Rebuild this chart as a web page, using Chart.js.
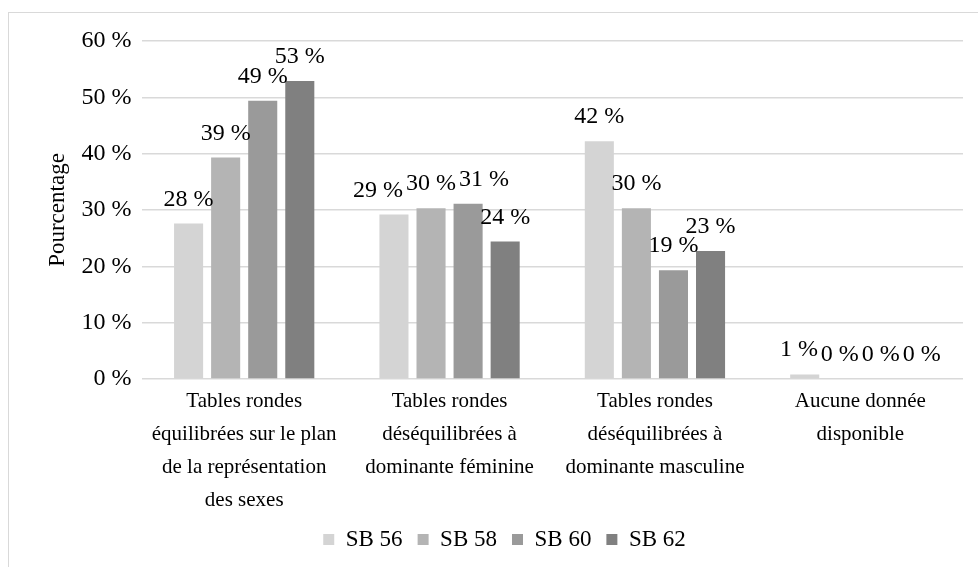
<!DOCTYPE html>
<html>
<head>
<meta charset="utf-8">
<script src="https://cdn.jsdelivr.net/npm/chart.js@4.4.0/dist/chart.umd.min.js"></script>
<style>
  body { margin: 0; background: #fff; }
  #frame {
    position: absolute; left: 8px; top: 12px; width: 980px; height: 570px;
    border-left: 1.5px solid #d9d9d9; border-top: 1.5px solid #d9d9d9;
  }
  #wrap { position: absolute; left: 0; top: 0; width: 978px; height: 567px; }
</style>
</head>
<body>
<div id="frame"></div>
<div id="wrap"><canvas id="barChart"></canvas></div>
<script>
const categories = [
  ["Tables rondes", "équilibrées sur le plan", "de la représentation", "des sexes"],
  ["Tables rondes", "déséquilibrées à", "dominante féminine"],
  ["Tables rondes", "déséquilibrées à", "dominante masculine"],
  ["Aucune donnée", "disponible"],
];
const seriesNames = ["SB 56", "SB 58", "SB 60", "SB 62"];
const sb56 = [27.6, 29.2, 42.2, 0.8];
const sb58 = [39.3, 30.3, 30.3, 0];
const sb60 = [49.4, 31.1, 19.3, 0];
const sb62 = [52.9, 24.4, 22.7, 0];
const yTicks = [0, 10, 20, 30, 40, 50, 60];

const colors = ["#d4d4d4", "#b4b4b4", "#9a9a9a", "#808080"];
const serif = "'Liberation Serif', 'Times New Roman', serif";

// Value labels above each bar, pushed apart sideways when they collide
const valueLabels = {
  id: "valueLabels",
  afterDatasetsDraw(chart) {
    const ctx = chart.ctx;
    ctx.save();
    ctx.font = "24px " + serif;
    ctx.fillStyle = "#000";
    ctx.textAlign = "center";
    ctx.textBaseline = "alphabetic";
    const nCat = chart.data.labels.length;
    for (let j = 0; j < nCat; j++) {
      const items = chart.data.datasets.map((ds, i) => {
        const bar = chart.getDatasetMeta(i).data[j];
        const text = Math.round(ds.data[j]) + " %";
        return { text, x: bar.x, y: bar.y - 18, w: ctx.measureText(text).width };
      });
      for (let it = 0; it < 30; it++) {
        for (let k = 0; k < items.length - 1; k++) {
          const a = items[k], b = items[k + 1];
          if (Math.abs(a.y - b.y) >= 16) continue;
          const overlap = (a.x + a.w / 2 + 3) - (b.x - b.w / 2);
          if (overlap > 0.1) {
            a.x -= overlap / 2;
            b.x += overlap / 2;
          }
        }
      }
      items.forEach((l) => ctx.fillText(l.text, l.x, l.y));
    }
    ctx.restore();
  },
};

// Move the legend to the same centre as in the original figure
const legendShift = {
  id: "legendShift",
  afterLayout(chart) {
    chart.legend.left += 23;
    chart.legend.right += 23;
  },
};

const ctx = document.getElementById("barChart").getContext("2d");
new Chart(ctx, {
  type: "bar",
  data: {
    labels: categories,
    datasets: [sb56, sb58, sb60, sb62].map((d, i) => ({
      label: seriesNames[i],
      data: d,
      backgroundColor: colors[i],
      categoryPercentage: 0.722,
      barPercentage: 0.784,
    })),
  },
  options: {
    responsive: true,
    maintainAspectRatio: false,
    animation: false,
    layout: { padding: { top: 41, left: 0, right: 15, bottom: 6 } },
    plugins: {
      legend: {
        position: "bottom",
        labels: {
          font: { family: serif, size: 23 },
          color: "#000",
          boxWidth: 11,
          boxHeight: 11,
          padding: 15,
        },
      },
      tooltip: { enabled: false },
    },
    scales: {
      x: {
        grid: { display: false },
        border: { display: false },
        ticks: {
          font: { family: serif, size: 21, lineHeight: 1.57 },
          color: "#000",
          maxRotation: 0,
          padding: -2,
        },
        afterFit(scale) {
          scale.height = 134;
        },
      },
      y: {
        min: 0,
        max: 60,
        afterBuildTicks(scale) {
          scale.ticks = yTicks.map((v) => ({ value: v }));
        },
        grid: { color: "#d9d9d9", lineWidth: 1.5, drawTicks: false },
        border: { display: false },
        ticks: {
          font: { family: serif, size: 24 },
          color: "#000",
          padding: 10,
          callback: (v) => v + " %",
        },
        title: {
          display: true,
          text: "Pourcentage",
          font: { family: serif, size: 23 },
          color: "#000",
          padding: { top: 44, bottom: 0 },
        },
        afterFit(scale) {
          scale.width = 141.5;
        },
      },
    },
  },
  plugins: [valueLabels, legendShift],
});
</script>
</body>
</html>
